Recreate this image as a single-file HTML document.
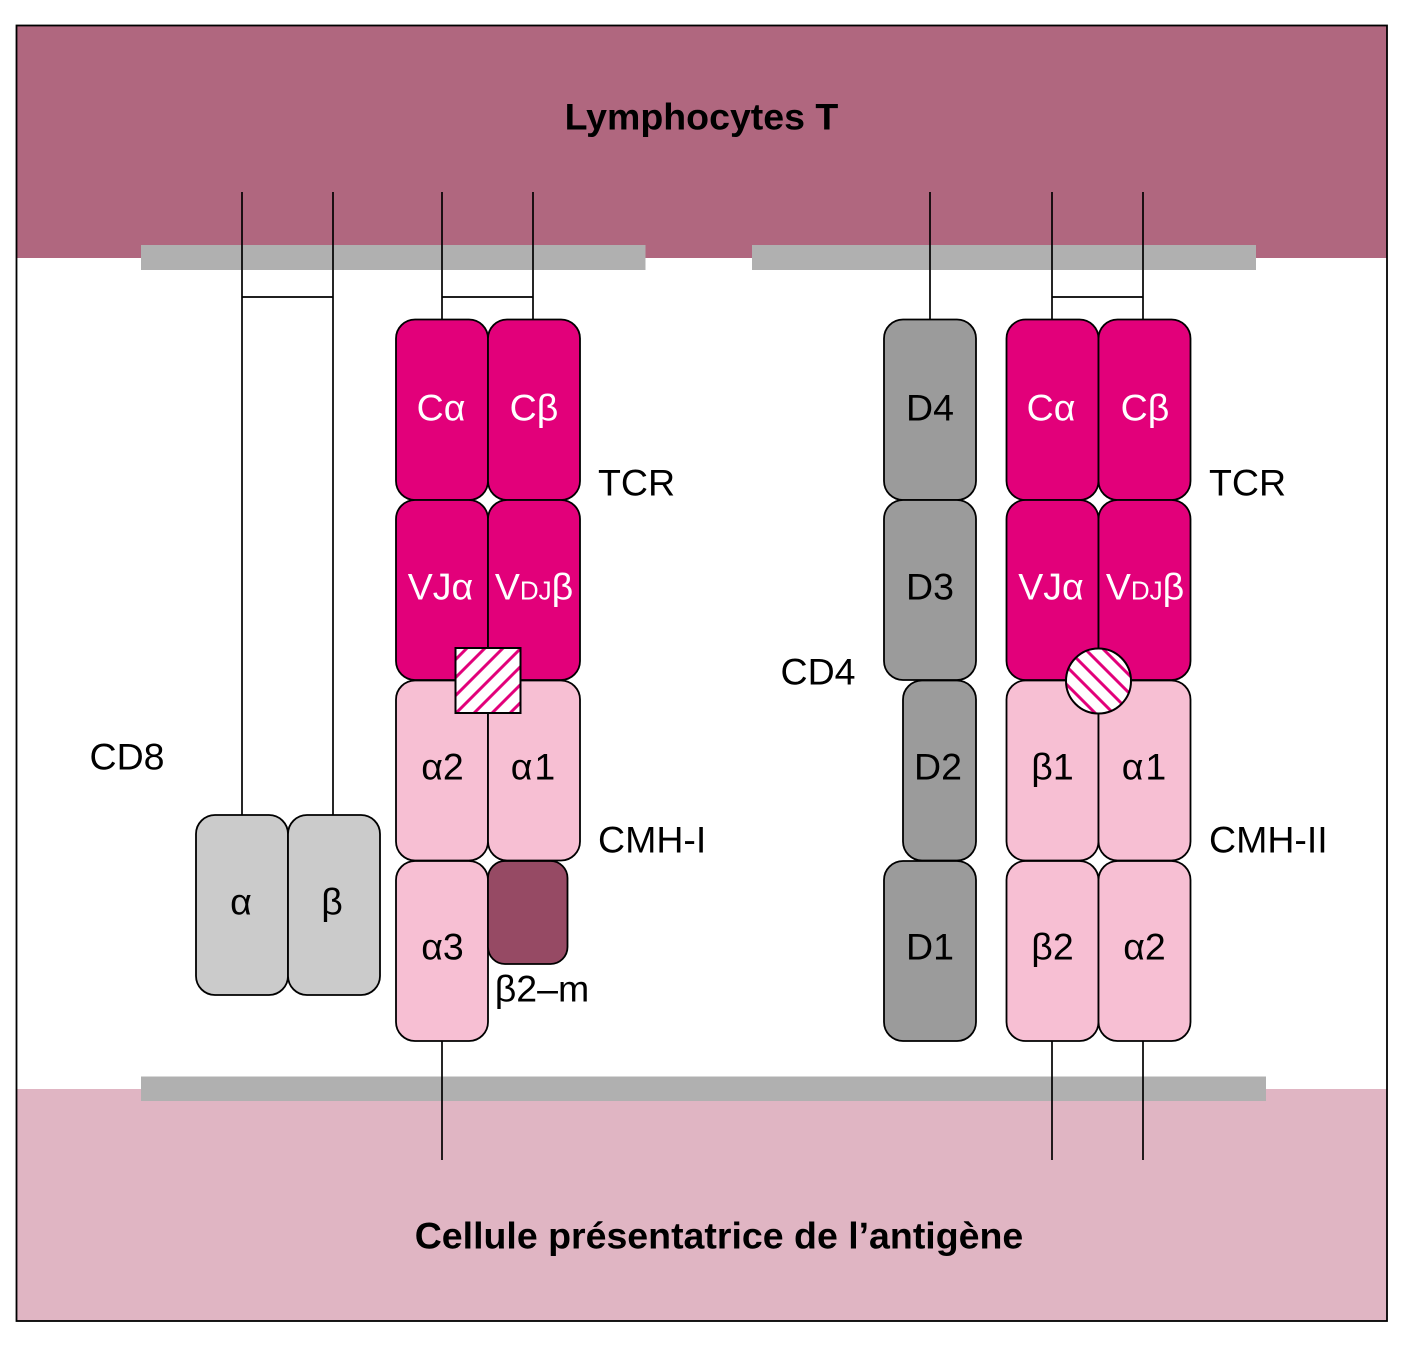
<!DOCTYPE html>
<html><head><meta charset="utf-8"><style>
html,body{margin:0;padding:0;background:#fff}
svg{display:block}
text{font-family:"Liberation Sans",sans-serif;font-size:37.5px;fill:#000;text-anchor:middle}
.w{fill:#fff}
.l{text-anchor:start}
.b{font-weight:bold;font-size:37.5px}
.n{stroke:#000;stroke-width:1.7;fill:none}
.box{stroke:#000;stroke-width:1.8}
.m{fill:#e2007a}.p{fill:#f7bfd3}.g{fill:#9b9b9b}.c{fill:#cbcbcb}
</style></head><body>
<svg width="1421" height="1356" viewBox="0 0 1421 1356" xmlns="http://www.w3.org/2000/svg">
<defs>
<pattern id="h1" width="12.73" height="20" patternUnits="userSpaceOnUse" patternTransform="translate(1113 0) rotate(45)"><rect width="12.73" height="20" fill="#fff"/><rect x="0" width="3" height="20" fill="#e2007a"/></pattern>
<pattern id="h2" width="12.73" height="20" patternUnits="userSpaceOnUse" patternTransform="translate(416 0) rotate(-45)"><rect width="12.73" height="20" fill="#fff"/><rect x="0" width="3" height="20" fill="#e2007a"/></pattern>
</defs>
<rect width="1421" height="1356" fill="#fff"/>
<rect x="17" y="26" width="1370" height="232" fill="#b0677f"/>
<rect x="17" y="1089" width="1370" height="232" fill="#e0b5c3"/>
<rect x="141" y="245" width="504.500" height="25" fill="#b0b0b0"/>
<rect x="752" y="245" width="504" height="25" fill="#b0b0b0"/>
<rect x="141" y="1076.500" width="1125" height="24.500" fill="#b0b0b0"/>
<rect x="16.500" y="25.500" width="1370.500" height="1295.500" fill="none" stroke="#000" stroke-width="1.800"/>

<path class="n" d="M242 192V815M333 192V815M242 297H333M442 192V320M533 192V320M442 297H533M930 192V320M1052 192V320M1143 192V320M1052 297H1143M442 1040V1160M1052 1040V1160M1143 1040V1160"/>

<rect class="box c" x="196" y="815" width="92" height="180" rx="19"/>
<rect class="box c" x="288" y="815" width="92" height="180" rx="19"/>

<rect class="box m" x="396" y="319.500" width="92" height="180.500" rx="19"/>
<rect class="box m" x="488" y="319.500" width="92" height="180.500" rx="19"/>
<rect class="box m" x="396" y="500" width="92" height="180" rx="19"/>
<rect class="box m" x="488" y="500" width="92" height="180" rx="19"/>
<rect class="box p" x="396" y="680.500" width="92" height="180" rx="19"/>
<rect class="box p" x="488" y="680.500" width="92" height="180" rx="19"/>
<rect class="box p" x="396" y="861" width="92" height="180" rx="19"/>
<rect class="box" fill="#964a64" x="488" y="861" width="79.500" height="103" rx="17"/>
<rect x="455.500" y="648" width="65" height="65" fill="url(#h1)" stroke="#000" stroke-width="2"/>

<rect class="box g" x="884" y="319.500" width="92" height="180.500" rx="19"/>
<rect class="box g" x="884" y="500" width="92" height="180" rx="19"/>
<rect class="box g" x="903" y="680.500" width="73" height="180" rx="19"/>
<rect class="box g" x="884" y="861" width="92" height="180" rx="19"/>

<rect class="box m" x="1006.500" y="319.500" width="92" height="180.500" rx="19"/>
<rect class="box m" x="1098.500" y="319.500" width="92" height="180.500" rx="19"/>
<rect class="box m" x="1006.500" y="500" width="92" height="180" rx="19"/>
<rect class="box m" x="1098.500" y="500" width="92" height="180" rx="19"/>
<rect class="box p" x="1006.500" y="680.500" width="92" height="180" rx="19"/>
<rect class="box p" x="1098.500" y="680.500" width="92" height="180" rx="19"/>
<rect class="box p" x="1006.500" y="861" width="92" height="180" rx="19"/>
<rect class="box p" x="1098.500" y="861" width="92" height="180" rx="19"/>
<circle cx="1098.500" cy="681" r="32.500" fill="url(#h2)" stroke="#000" stroke-width="2"/>

<g transform="translate(0,-0.5)">
<text class="b" x="701.500" y="130">Lymphocytes T</text>
<text class="b" x="719" y="1249">Cellule présentatrice de l’antigène</text>

<text class="w" x="441" y="421">Cα</text>
<text class="w" x="534" y="421">Cβ</text>
<text class="w" x="440.500" y="600">VJα</text>
<text class="w" x="534" y="600">V<tspan font-size="26">DJ</tspan>β</text>
<text x="442.500" y="780">α2</text>
<text x="533" y="780">α<tspan dx="2">1</tspan></text>
<text x="442.500" y="960">α3</text>
<text x="542" y="1002">β2–m</text>
<text x="241" y="915">α</text>
<text x="332" y="915">β</text>
<text class="l" x="598" y="496">TCR</text>
<text class="l" x="598" y="853">CMH-I</text>
<text x="127" y="770">CD8</text>
<text x="818" y="685">CD4</text>

<text x="930" y="421">D4</text>
<text x="930" y="600">D3</text>
<text x="938" y="780">D2</text>
<text x="930" y="960">D1</text>

<text class="w" x="1051" y="421">Cα</text>
<text class="w" x="1145" y="421">Cβ</text>
<text class="w" x="1051" y="600">VJα</text>
<text class="w" x="1145" y="600">V<tspan font-size="26">DJ</tspan>β</text>
<text x="1052.500" y="780">β1</text>
<text x="1144" y="780">α<tspan dx="2">1</tspan></text>
<text x="1052.500" y="960">β2</text>
<text x="1144.500" y="960">α2</text>
<text class="l" x="1209" y="496">TCR</text>
<text class="l" x="1209" y="853">CMH-II</text>
</g>
</svg>
</body></html>
